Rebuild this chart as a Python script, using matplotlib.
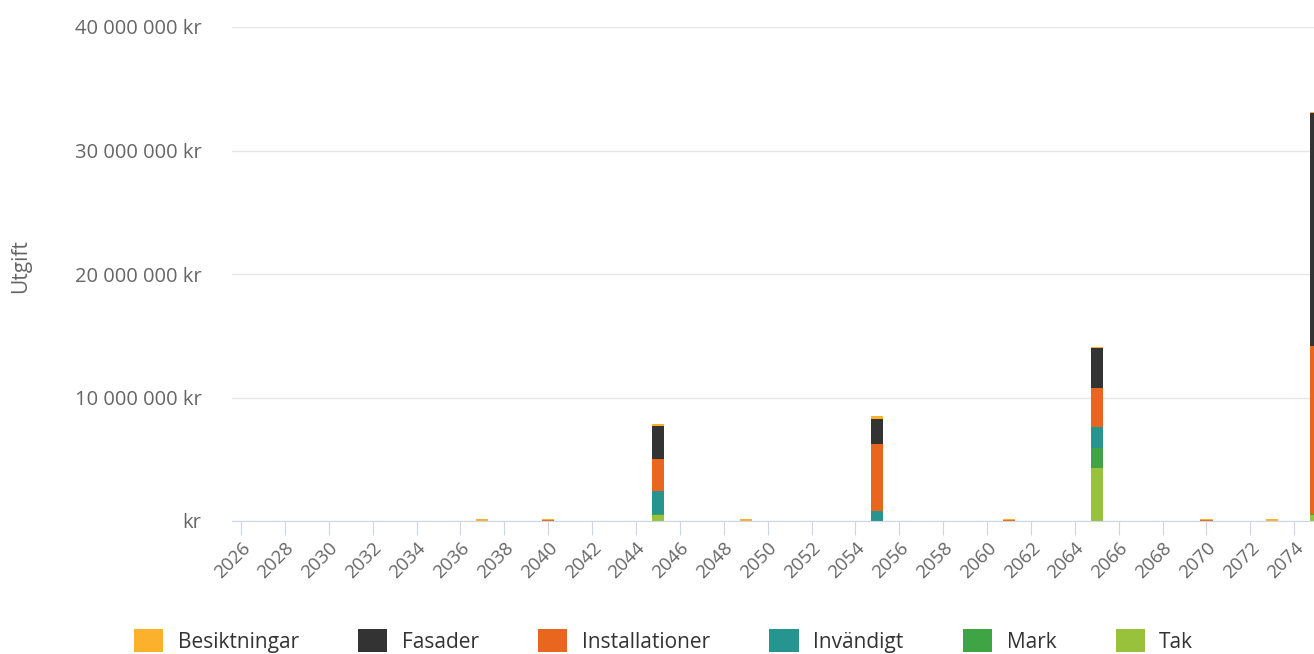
import matplotlib.pyplot as plt
from matplotlib.patches import Patch
from matplotlib.ticker import FuncFormatter

plt.rcParams['font.family'] = ['Open Sans', 'DejaVu Sans']

# År med utgifter (miljoner kr)
bar_years = [2037, 2040, 2045, 2049, 2055, 2061, 2065, 2070, 2073, 2075]

besiktningar = [0.15, 0.06, 0.15, 0.15, 0.25, 0.15, 0.10, 0.06, 0.15, 0.10]
fasader = [0, 0, 2.7, 0, 2.0, 0, 3.25, 0, 0, 18.8]
installationer = [0, 0.12, 2.6, 0, 5.4, 0.05, 3.15, 0.12, 0, 13.6]
invandigt = [0, 0, 1.8, 0, 0.85, 0, 1.7, 0, 0, 0]
mark = [0, 0, 0.1, 0, 0, 0, 1.6, 0, 0, 0.1]
tak = [0, 0, 0.5, 0, 0, 0, 4.3, 0, 0, 0.5]

series = [
    ("Besiktningar", besiktningar, "#fbb12b"),
    ("Fasader", fasader, "#333333"),
    ("Installationer", installationer, "#e8661e"),
    ("Invändigt", invandigt, "#26958f"),
    ("Mark", mark, "#3fa544"),
    ("Tak", tak, "#98c23c"),
]

tick_years = list(range(2026, 2076, 2))

fig = plt.figure(figsize=(13.14, 6.54), dpi=100)
ax = fig.add_axes([232 / 1314, 133 / 654, 1 - 232 / 1314, 494 / 654])

# staplas nerifrån: Tak först, Besiktningar överst
bottom = [0.0] * len(bar_years)
for name, vals, color in reversed(series):
    ax.bar(bar_years, [v * 1e6 for v in vals], width=0.55,
           bottom=[b * 1e6 for b in bottom], color=color, linewidth=0)
    bottom = [b + v for b, v in zip(bottom, vals)]

ax.set_xlim(2025.59, 2074.9)
ax.set_ylim(0, 40e6)
ax.set_yticks([0, 10e6, 20e6, 30e6, 40e6])


def kr(v, pos):
    if v == 0:
        return "kr"
    return f"{int(v):,}".replace(",", " ") + " kr"


ax.yaxis.set_major_formatter(FuncFormatter(kr))
ax.set_xticks(tick_years)
ax.set_xticklabels([str(y) for y in tick_years], rotation=45, ha='right',
                   rotation_mode='anchor')

ax.grid(axis='y', color='#e6e6e6', linewidth=1)
ax.set_axisbelow(True)
for s in ['top', 'right', 'left']:
    ax.spines[s].set_visible(False)
ax.spines['bottom'].set_color('#ccd6eb')
ax.tick_params(axis='y', length=0, pad=22, labelsize=14.5, labelcolor='#666666')
ax.tick_params(axis='x', length=10, color='#ccd6eb', labelsize=13.5,
               labelcolor='#666666', pad=3)

fig.text(21 / 1314, 1 - 266 / 654, "Utgift", rotation=90, va='center',
         ha='center', fontsize=15, color='#666666')

handles = [Patch(facecolor=c, label=n) for n, v, c in series]
fig.legend(handles=handles, loc='center', bbox_to_anchor=(0.505, 1 - 641 / 654),
           ncol=6, frameon=False, fontsize=15, handlelength=1.4, handleheight=1.25,
           columnspacing=2.85, handletextpad=0.7, labelcolor='#333333')

plt.savefig("out.png", dpi=100)
